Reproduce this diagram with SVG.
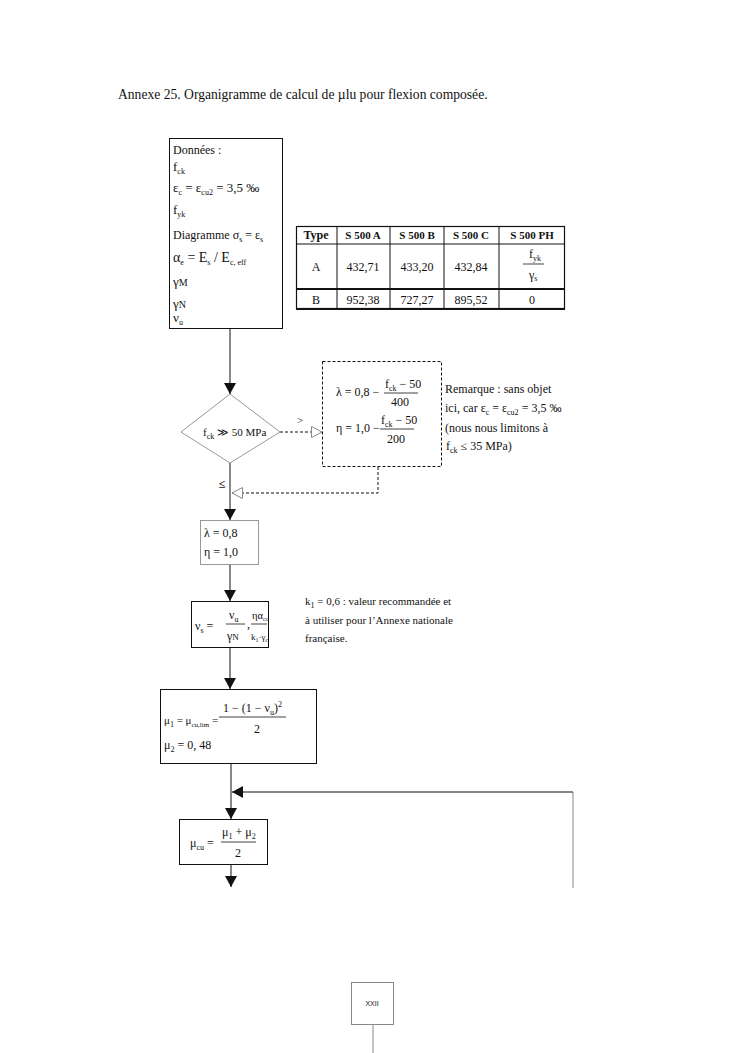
<svg xmlns="http://www.w3.org/2000/svg" width="745" height="1053" viewBox="0 0 745 1053">
<style>
text{font-family:"Liberation Serif","Times New Roman",serif;font-size:12px;fill:#111}
.s{font-size:8px}
.b{font-weight:bold}
.box{fill:#fff;stroke:#111;stroke-width:1}
.gbox{fill:#fff;stroke:#999;stroke-width:1}
.dbox{fill:none;stroke:#111;stroke-width:1;stroke-dasharray:3,2}
.ln{stroke:#111;stroke-width:1;fill:none}
.dl{stroke:#111;stroke-width:1;fill:none;stroke-dasharray:3,2}
.fr{stroke:#111;stroke-width:0.8}
.c{text-anchor:middle}
</style>
<defs>
<marker id="ah" markerWidth="12" markerHeight="12" refX="11" refY="6" orient="auto" markerUnits="userSpaceOnUse"><path d="M0,0 L11,6 L0,12 Z" fill="#111"/></marker>
<marker id="hh" markerWidth="12" markerHeight="12" refX="11" refY="6" orient="auto" markerUnits="userSpaceOnUse"><path d="M0.5,0.5 L11,6 L0.5,11.5 Z" fill="#fff" stroke="#888" stroke-width="1"/></marker>
</defs>
<rect width="745" height="1053" fill="#fff"/>
<text x="118" y="99" style="font-size:13.6px">Annexe 25. Organigramme de calcul de µlu pour flexion composée.</text>

<g id="connectors">
<line class="ln" x1="230" y1="329" x2="230" y2="394" marker-end="url(#ah)"/>
<line class="dl" x1="280" y1="432" x2="322" y2="432" marker-end="url(#hh)"/>
<polyline class="dl" points="378,467 378,493 232,493" marker-end="url(#hh)"/>
<line class="ln" x1="230" y1="463" x2="230" y2="520" marker-end="url(#ah)"/>
<line class="ln" x1="230" y1="565" x2="230" y2="601" marker-end="url(#ah)"/>
<line class="ln" x1="230" y1="647" x2="230" y2="689" marker-end="url(#ah)"/>
<line class="ln" x1="231" y1="764" x2="231" y2="819" marker-end="url(#ah)"/>
<polyline points="573,888 573,792" style="fill:none;stroke:#888;stroke-width:1"/>
<line class="ln" x1="573" y1="792" x2="232" y2="792" marker-end="url(#ah)"/>
<line class="ln" x1="231" y1="865" x2="231" y2="887" marker-end="url(#ah)"/>
<text x="300" y="424" class="c" style="font-size:11px">&gt;</text>
<text x="222" y="488" class="c b" style="font-size:12px">≤</text>
</g>

<g id="donnees">
<rect class="box" x="169.5" y="138.5" width="113" height="190"/>
<text x="173" y="154">Données :</text>
<text x="173" y="171" style="font-size:13px">f<tspan class="s" dy="3">ck</tspan></text>
<text x="173" y="192" style="font-size:13px">ε<tspan class="s" dy="3">c</tspan><tspan dy="-3"> = ε</tspan><tspan class="s" dy="3">cu2</tspan><tspan dy="-3"> = 3,5 ‰</tspan></text>
<text x="173" y="214" style="font-size:13px">f<tspan class="s" dy="3">yk</tspan></text>
<text x="173" y="239">Diagramme   σ<tspan class="s" dy="3">s</tspan><tspan dy="-3"> = ε</tspan><tspan class="s" dy="3">s</tspan></text>
<text x="173" y="262" style="font-size:14px">α<tspan class="s" dy="3">e</tspan><tspan dy="-3"> = E</tspan><tspan class="s" dy="3">s</tspan><tspan dy="-3"> / E</tspan><tspan class="s" dy="3">c, eff</tspan></text>
<text x="173" y="286" style="font-size:13px">γ<tspan style="font-size:10px">M</tspan></text>
<text x="173" y="308" style="font-size:13px">γ<tspan style="font-size:10px">N</tspan></text>
<text x="173" y="322" style="font-size:13px">ν<tspan class="s" dy="3">u</tspan></text>
</g>

<g id="table">
<rect x="296.5" y="226.5" width="268" height="82" fill="#fff" stroke="#111" stroke-width="1.2"/>
<line x1="296" y1="244" x2="565" y2="244" stroke="#111" stroke-width="1.2"/>
<line x1="296" y1="289" x2="565" y2="289" stroke="#111" stroke-width="2.2"/>
<line x1="296" y1="309" x2="565" y2="309" stroke="#111" stroke-width="2"/>
<line x1="337" y1="226" x2="337" y2="309" stroke="#111" stroke-width="1"/>
<line x1="390" y1="226" x2="390" y2="309" stroke="#111" stroke-width="1"/>
<line x1="444" y1="226" x2="444" y2="309" stroke="#111" stroke-width="1"/>
<line x1="499" y1="226" x2="499" y2="309" stroke="#111" stroke-width="1"/>
<text x="316" y="239" class="c b">Type</text>
<text x="363" y="239" class="c b" style="font-size:11px">S 500 A</text>
<text x="417" y="239" class="c b" style="font-size:11px">S 500 B</text>
<text x="471" y="239" class="c b" style="font-size:11px">S 500 C</text>
<text x="532" y="239" class="c b" style="font-size:11px">S 500  PH</text>
<text x="316" y="271" class="c">A</text>
<text x="363" y="271" class="c">432,71</text>
<text x="417" y="271" class="c">433,20</text>
<text x="471" y="271" class="c">432,84</text>
<text x="529" y="258">f<tspan class="s" dy="3">yk</tspan></text>
<line class="fr" x1="523" y1="264" x2="544" y2="264"/>
<text x="529" y="279">γ<tspan class="s" dy="2">s</tspan></text>
<text x="316" y="304" class="c">B</text>
<text x="363" y="304" class="c">952,38</text>
<text x="417" y="304" class="c">727,27</text>
<text x="471" y="304" class="c">895,52</text>
<text x="532" y="304" class="c">0</text>
</g>

<g id="decision">
<polygon points="230,394 280,432 230,463 181,432" fill="#fff" stroke="#999" stroke-width="1"/>
<text x="203" y="436" style="font-size:11px">f<tspan class="s" dy="3">ck</tspan><tspan dy="-3"> ≫ 50 MPa</tspan></text>
</g>

<g id="lambda-eta-formula">
<rect class="dbox" x="322.5" y="361.5" width="119" height="105"/>
<text x="336" y="396">λ = 0,8 −</text>
<text x="385" y="388">f<tspan class="s" dy="3">ck</tspan><tspan dy="-3"> − 50</tspan></text>
<line class="fr" x1="384" y1="393" x2="418" y2="393"/>
<text x="400" y="406" class="c">400</text>
<text x="336" y="432">η = 1,0 −</text>
<text x="381" y="424">f<tspan class="s" dy="3">ck</tspan><tspan dy="-3"> − 50</tspan></text>
<line class="fr" x1="380" y1="429" x2="414" y2="429"/>
<text x="396" y="443" class="c">200</text>
</g>

<g id="remarque">
<text x="445" y="393">Remarque : sans objet</text>
<text x="445" y="412">ici, car  ε<tspan class="s" dy="3">c</tspan><tspan dy="-3"> = ε</tspan><tspan class="s" dy="3">cu2</tspan><tspan dy="-3"> = 3,5 ‰</tspan></text>
<text x="445" y="432">(nous nous limitons à</text>
<text x="446" y="450">f<tspan class="s" dy="3">ck</tspan><tspan dy="-3"> ≤ 35 MPa)</tspan></text>
</g>

<g id="lambda-eta-default">
<rect class="gbox" x="200.5" y="520.5" width="58" height="44"/>
<text x="204" y="537">λ = 0,8</text>
<text x="204" y="556">η = 1,0</text>
</g>

<g id="nu-s">
<rect class="box" x="191.5" y="601.5" width="77" height="46"/>
<text x="195" y="630">ν<tspan class="s" dy="3">s</tspan><tspan dy="-3"> =</tspan></text>
<text x="229" y="619">ν<tspan class="s" dy="3">u</tspan></text>
<line class="fr" x1="226" y1="624" x2="245" y2="624"/>
<text x="227" y="640">γ<tspan style="font-size:9px">N</tspan></text>
<text x="247" y="628">,</text>
<text x="252" y="619" style="font-size:10.5px">ηα<tspan style="font-size:6.5px" dy="2">cc</tspan></text>
<line class="fr" x1="251" y1="624" x2="267" y2="624"/>
<text x="251" y="640" style="font-size:9px">k<tspan style="font-size:6px" dy="2">1</tspan><tspan dy="-2">·γ</tspan><tspan style="font-size:6px" dy="2">c</tspan></text>
</g>

<g id="k1-note">
<text x="305" y="605" style="font-size:11px">k<tspan class="s" dy="3">1</tspan><tspan dy="-3"> = 0,6 : valeur recommandée et</tspan></text>
<text x="305" y="624" style="font-size:11px">à utiliser pour l’Annexe nationale</text>
<text x="305" y="642" style="font-size:11px">française.</text>
</g>

<g id="mu1-mu2">
<rect class="box" x="160.5" y="689.5" width="156" height="74"/>
<text x="164" y="724" style="font-size:11px">μ<tspan class="s" dy="3">1</tspan><tspan dy="-3"> = μ</tspan><tspan style="font-size:7px" dy="3">cu,lim</tspan><tspan dy="-3"> =</tspan></text>
<text x="223" y="712">1 − (1 − ν<tspan class="s" dy="3">u</tspan><tspan dy="-3">)</tspan><tspan class="s" dy="-5">2</tspan></text>
<line class="fr" x1="219" y1="717" x2="286" y2="717"/>
<text x="257" y="733" class="c">2</text>
<text x="164" y="749">μ<tspan class="s" dy="3">2</tspan><tspan dy="-3"> = 0, 48</tspan></text>
</g>

<g id="mu-cu">
<rect class="box" x="179.5" y="819.5" width="88" height="45"/>
<text x="190" y="847">μ<tspan class="s" dy="3">cu</tspan><tspan dy="-3"> =</tspan></text>
<text x="222" y="836">μ<tspan class="s" dy="3">1</tspan><tspan dy="-3"> + μ</tspan><tspan class="s" dy="3">2</tspan></text>
<line class="fr" x1="221" y1="842" x2="256" y2="842"/>
<text x="238" y="857" class="c">2</text>
</g>

<g id="page-number">
<rect x="351.5" y="982.5" width="42" height="42" fill="#fff" stroke="#888" stroke-width="1"/>
<text x="372" y="1006" class="c" style="font-family:'Liberation Sans',Arial,sans-serif;font-size:7px">XXII</text>
<line x1="373" y1="1025" x2="373" y2="1053" stroke="#888" stroke-width="1"/>
</g>
</svg>
